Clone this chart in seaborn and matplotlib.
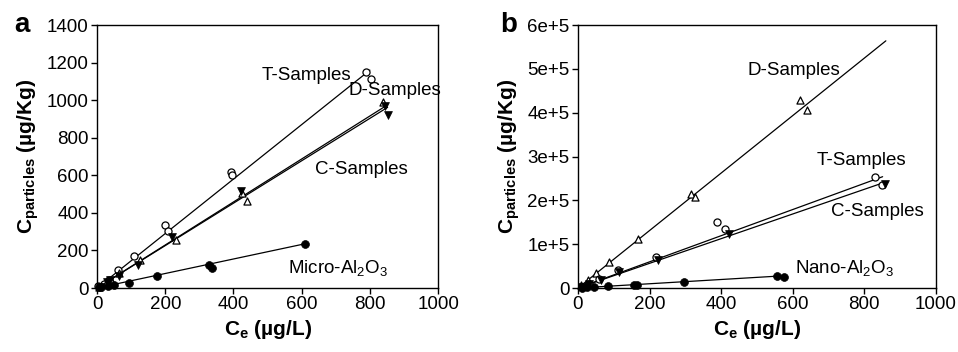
# Sorption isotherms: particle vs. dissolved concentration, two panels
import numpy as np
import pandas as pd
import matplotlib
matplotlib.use("Agg")
import matplotlib.pyplot as plt
import seaborn as sns

# ---- data ----
# panel a (micro particles)
a_T_x = [2, 20, 35, 60, 109, 200, 209, 392, 396, 790, 802]
a_T_y = [10, 22, 42, 94, 168, 337, 305, 618, 604, 1152, 1111]
a_D_x = [5, 25, 40, 65, 125, 231, 425, 440, 839]
a_D_y = [5, 25, 45, 80, 150, 257, 505, 461, 992]
a_C_x = [10, 30, 38, 65, 119, 221, 421, 845, 854]
a_C_y = [8, 30, 40, 62, 124, 271, 519, 970, 921]
a_M_x = [5, 12, 31, 51, 94, 177, 328, 336, 611]
a_M_y = [3, 6, 10, 14, 27, 62, 120, 106, 234]
# fitted lines (end points)
a_T_fit = ([0, 800], [0, 1160])
a_D_fit = ([0, 849], [0, 972])
a_C_fit = ([0, 852], [0, 962])
a_M_fit = ([0, 611], [0, 236])

# panel b (nano particles)
b_D_x = [9, 28, 51, 88, 169, 316, 327, 619, 640]
b_D_y = [8e3, 19e3, 34e3, 59e3, 112e3, 214e3, 207e3, 429e3, 406e3]
b_T_x = [10, 30, 60, 112, 219, 389, 412, 831, 849]
b_T_y = [3e3, 10e3, 20e3, 40e3, 71e3, 150e3, 134e3, 253e3, 235e3]
b_C_x = [12, 32, 65, 116, 223, 423, 858]
b_C_y = [3e3, 9e3, 19e3, 36e3, 65e3, 123e3, 238e3]
b_N_x = [10, 26, 45, 84, 156, 166, 296, 556, 575]
b_N_y = [1e3, 1.5e3, 2e3, 4e3, 6e3, 6e3, 13e3, 28e3, 25e3]
b_D_fit = ([0, 860], [0, 564e3])
b_T_fit = ([0, 851], [0, 254e3])
b_C_fit = ([0, 856], [0, 241e3])
b_N_fit = ([0, 556], [0, 27e3])

a_labels = [("T-Samples", 615, 1134), ("D-Samples", 873, 1051),
            ("C-Samples", 776, 633), ("Micro-Al$_2$O$_3$", 708, 106)]
b_labels = [("D-Samples", 603, 497e3), ("T-Samples", 791, 290e3),
            ("C-Samples", 835, 175e3), ("Nano-Al$_2$O$_3$", 744, 46e3)]

sns.set_style("ticks")
plt.rcParams['font.family'] = ['Liberation Sans', 'DejaVu Sans']
plt.rcParams['mathtext.fontset'] = 'custom'
plt.rcParams['mathtext.rm'] = 'Liberation Sans'
plt.rcParams['mathtext.bf'] = 'Liberation Sans:bold'
plt.rcParams['mathtext.it'] = 'Liberation Sans'
for k in ['text.color', 'axes.labelcolor', 'xtick.color', 'ytick.color']:
    plt.rcParams[k] = 'black'

fig = plt.figure(figsize=(9.58, 3.52), dpi=100)
ax_a = fig.add_axes([0.1013, 0.1818, 0.356, 0.747])
ax_b = fig.add_axes([0.6033, 0.1818, 0.3737, 0.747])

open_kw = dict(facecolor='white', edgecolor='black', linewidth=0.9, s=26, zorder=3, clip_on=False)
fill_kw = dict(color='black', edgecolor='black', linewidth=0.5, s=32, zorder=3, clip_on=False)


def draw(ax, fits, pts, labels):
    for fx, fy in fits:
        sns.lineplot(x=fx, y=fy, ax=ax, color='black', linewidth=0.9, zorder=2)
    for x, y, mk, is_open in pts:
        kw = open_kw if is_open else fill_kw
        sns.scatterplot(x=x, y=y, marker=mk, ax=ax, **kw)
    for txt, tx, ty in labels:
        ax.text(tx, ty, txt, ha='center', va='center', fontsize=13.5)
    ax.set_xlim(0, 1000)
    ax.set_xticks(range(0, 1001, 200))
    for s in ax.spines.values():
        s.set_linewidth(1.0)
        s.set_color('black')
    ax.tick_params(direction='out', length=4, width=1, labelsize=13.5, pad=2)
    ax.set_xlabel(r"C$_\mathbf{e}$ (µg/L)", fontsize=15, fontweight='bold', labelpad=3)
    ax.set_ylabel(r"C$_\mathbf{particles}$ (µg/Kg)", fontsize=15, fontweight='bold', labelpad=4)


draw(ax_a,
     [a_T_fit, a_D_fit, a_C_fit, a_M_fit],
     [(a_T_x, a_T_y, 'o', True), (a_D_x, a_D_y, '^', True),
      (a_C_x, a_C_y, 'v', False), (a_M_x, a_M_y, 'o', False)],
     a_labels)
ax_a.set_ylim(0, 1400)
ax_a.set_yticks(range(0, 1401, 200))

draw(ax_b,
     [b_D_fit, b_T_fit, b_C_fit, b_N_fit],
     [(b_D_x, b_D_y, '^', True), (b_T_x, b_T_y, 'o', True),
      (b_C_x, b_C_y, 'v', False), (b_N_x, b_N_y, 'o', False)],
     b_labels)
ax_b.set_ylim(0, 6e5)
ax_b.set_yticks(np.arange(0, 6.01e5, 1e5))
ax_b.yaxis.set_major_formatter(
    plt.FuncFormatter(lambda v, p: '0' if v == 0 else f"{v / 1e5:.0f}e+5"))

fig.text(22 / 958, 1 - 25 / 352, 'a', fontsize=20, fontweight='bold', ha='center', va='center')
fig.text(509 / 958, 1 - 25 / 352, 'b', fontsize=20, fontweight='bold', ha='center', va='center')

fig.savefig("out.png", dpi=100)
